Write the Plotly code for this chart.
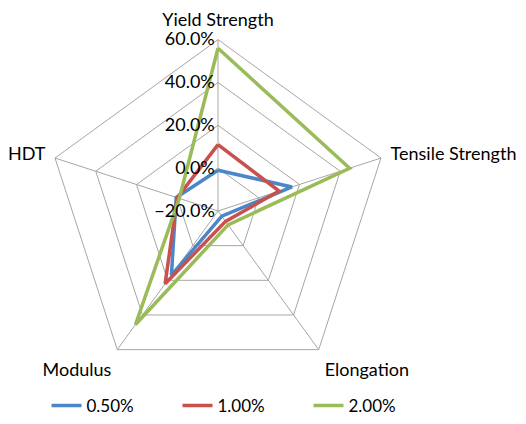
import plotly.graph_objects as go

# Property axes (clockwise from the top)
properties = ["Yield Strength", "Tensile Strength", "Elongation", "Modulus", "HDT"]

# Relative change per loading level (fractions)
series_names = ["0.50%", "1.00%", "2.00%"]
vals_050 = [-0.01, 0.163, -0.17, 0.17, 0.005]
vals_100 = [0.11, 0.10, -0.14, 0.22, 0.0]
vals_200 = [0.56, 0.446, -0.12, 0.455, -0.01]

colors = ["#4A86C8", "#C8504D", "#9BBB59"]

fig = go.Figure()
for name, vals, col in zip(series_names, [vals_050, vals_100, vals_200], colors):
    fig.add_trace(go.Scatterpolar(
        r=vals + vals[:1],
        theta=properties + properties[:1],
        mode="lines",
        name=name,
        line=dict(color=col, width=3.5),
    ))

font_family = "Lato, 'Open Sans', sans-serif"

fig.update_layout(
    width=526,
    height=424,
    margin=dict(l=0, r=0, t=0, b=0),
    paper_bgcolor="white",
    plot_bgcolor="white",
    font=dict(family=font_family, size=17, color="#000000"),
    polar=dict(
        domain=dict(x=[45 / 526, 391 / 526], y=[1 - 386 / 424, 1 - 40 / 424]),
        bgcolor="white",
        gridshape="linear",
        radialaxis=dict(
            range=[-0.2, 0.6],
            tickvals=[-0.2, 0.0, 0.2, 0.4, 0.6],
            tickformat=".1%",
            angle=90,
            tickangle=90,
            side="counterclockwise",
            showline=False,
            ticks="",
            gridcolor="#A6A6A6",
            gridwidth=1,
            tickfont=dict(size=18, family=font_family, color="#000000"),
        ),
        angularaxis=dict(
            direction="clockwise",
            rotation=90,
            linecolor="#A6A6A6",
            linewidth=1,
            gridcolor="#A6A6A6",
            gridwidth=1,
            ticks="outside",
            ticklen=6,
            tickcolor="rgba(0,0,0,0)",
            tickfont=dict(size=18, family=font_family, color="#000000"),
        ),
    ),
    legend=dict(
        orientation="h",
        x=243 / 526,
        xanchor="center",
        y=1 - 410 / 424,
        yanchor="middle",
        entrywidth=86,
        font=dict(size=17, family=font_family, color="#000000"),
    ),
)

fig.write_html("out.html")
